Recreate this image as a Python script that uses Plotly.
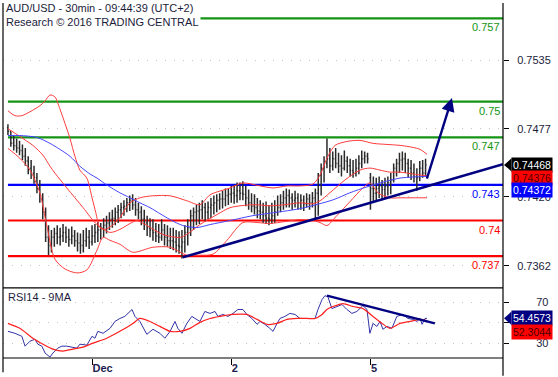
import pandas as pd
import plotly.graph_objects as go

# ---------------- data ----------------
title_line1 = "AUD/USD - 30min - 09:44:39 (UTC+2)"
title_line2 = "Research © 2016 TRADING CENTRAL"
rsi_title = "RSI14 - 9MA"

bar_times = list(pd.date_range("2016-11-30 09:30", "2016-12-02 23:30", freq="30min")) + \
    list(pd.date_range("2016-12-05 00:00", "2016-12-05 09:30", freq="30min"))

opens = [0.7478, 0.7475, 0.7465, 0.7463, 0.7461, 0.7459, 0.7454, 0.7450, 0.7444, 0.7440,
         0.7436, 0.7427, 0.7421, 0.7407, 0.7386, 0.7379, 0.7386, 0.7389, 0.7386, 0.7387,
         0.7390, 0.7386, 0.7384, 0.7387, 0.7383, 0.7381, 0.7379, 0.7383, 0.7386, 0.7382,
         0.7387, 0.7390, 0.7392, 0.7394, 0.7396, 0.7398, 0.7401, 0.7402, 0.7407, 0.7409,
         0.7411, 0.7412, 0.7415, 0.7417, 0.7413, 0.7409, 0.7407, 0.7401, 0.7398, 0.7394,
         0.7392, 0.7390, 0.7387, 0.7386, 0.7392, 0.7386, 0.7383, 0.7383, 0.7382, 0.7379,
         0.7378, 0.7382, 0.7390, 0.7394, 0.7404, 0.7407, 0.7408, 0.7409, 0.7411, 0.7407,
         0.7411, 0.7413, 0.7415, 0.7417, 0.7418, 0.7418, 0.7421, 0.7422, 0.7423, 0.7421,
         0.7425, 0.7423, 0.7422, 0.7419, 0.7415, 0.7412, 0.7411, 0.7408, 0.7407, 0.7404,
         0.7402, 0.7401, 0.7404, 0.7407, 0.7411, 0.7415, 0.7419, 0.7421, 0.7419, 0.7417,
         0.7419, 0.7415, 0.7417, 0.7414, 0.7418, 0.7415, 0.7419, 0.7423, 0.7438, 0.7444,
         0.7448, 0.7452, 0.7446, 0.7452, 0.7448, 0.7446, 0.7444, 0.7450, 0.7446, 0.7442,
         0.7440, 0.7444, 0.7448, 0.7452, 0.7454, 0.7436, 0.7427, 0.7423, 0.7427, 0.7429,
         0.7426, 0.7429, 0.7432, 0.7434, 0.7444, 0.7448, 0.7451, 0.7452, 0.7448, 0.7444,
         0.7440, 0.7437, 0.7436, 0.7444, 0.7440]
highs = [0.7481, 0.7475, 0.7471, 0.7469, 0.7467, 0.7464, 0.7461, 0.7454, 0.7451, 0.7446,
         0.7440, 0.7434, 0.7423, 0.7411, 0.7396, 0.7392, 0.7394, 0.7396, 0.7394, 0.7397,
         0.7395, 0.7393, 0.7395, 0.7392, 0.7390, 0.7389, 0.7392, 0.7394, 0.7392, 0.7396,
         0.7397, 0.7399, 0.7398, 0.7402, 0.7404, 0.7407, 0.7409, 0.7411, 0.7413, 0.7415,
         0.7417, 0.7419, 0.7421, 0.7422, 0.7419, 0.7415, 0.7412, 0.7409, 0.7404, 0.7402,
         0.7401, 0.7398, 0.7397, 0.7401, 0.7397, 0.7396, 0.7394, 0.7394, 0.7392, 0.7391,
         0.7392, 0.7396, 0.7401, 0.7409, 0.7411, 0.7413, 0.7415, 0.7417, 0.7415, 0.7416,
         0.7419, 0.7421, 0.7422, 0.7423, 0.7425, 0.7427, 0.7427, 0.7429, 0.7430, 0.7432,
         0.7432, 0.7433, 0.7429, 0.7426, 0.7423, 0.7422, 0.7419, 0.7417, 0.7415, 0.7416,
         0.7413, 0.7415, 0.7417, 0.7421, 0.7422, 0.7425, 0.7427, 0.7426, 0.7423, 0.7425,
         0.7423, 0.7422, 0.7421, 0.7423, 0.7422, 0.7424, 0.7427, 0.7440, 0.7448, 0.7454,
         0.7469, 0.7461, 0.7458, 0.7461, 0.7457, 0.7455, 0.7459, 0.7454, 0.7452, 0.7451,
         0.7452, 0.7455, 0.7459, 0.7458, 0.7457, 0.7440, 0.7437, 0.7436, 0.7437, 0.7434,
         0.7436, 0.7437, 0.7440, 0.7448, 0.7452, 0.7457, 0.7458, 0.7457, 0.7452, 0.7451,
         0.7448, 0.7444, 0.7450, 0.7451, 0.7452]
lows = [0.7472, 0.7462, 0.7459, 0.7457, 0.7455, 0.7451, 0.7446, 0.7439, 0.7435, 0.7431,
        0.7423, 0.7415, 0.7401, 0.7382, 0.7371, 0.7373, 0.7378, 0.7380, 0.7379, 0.7382,
        0.7381, 0.7378, 0.7380, 0.7378, 0.7374, 0.7372, 0.7373, 0.7378, 0.7376, 0.7379,
        0.7381, 0.7382, 0.7384, 0.7386, 0.7389, 0.7392, 0.7394, 0.7396, 0.7398, 0.7402,
        0.7404, 0.7407, 0.7408, 0.7409, 0.7404, 0.7401, 0.7396, 0.7392, 0.7387, 0.7386,
        0.7383, 0.7382, 0.7381, 0.7383, 0.7379, 0.7378, 0.7376, 0.7375, 0.7373, 0.7372,
        0.7368, 0.7373, 0.7379, 0.7387, 0.7392, 0.7396, 0.7397, 0.7401, 0.7399, 0.7401,
        0.7402, 0.7405, 0.7407, 0.7409, 0.7410, 0.7412, 0.7413, 0.7415, 0.7414, 0.7415,
        0.7417, 0.7417, 0.7412, 0.7409, 0.7407, 0.7405, 0.7402, 0.7401, 0.7398, 0.7397,
        0.7396, 0.7397, 0.7398, 0.7404, 0.7407, 0.7409, 0.7411, 0.7411, 0.7409, 0.7411,
        0.7409, 0.7409, 0.7408, 0.7411, 0.7409, 0.7411, 0.7401, 0.7404, 0.7421, 0.7432,
        0.7444, 0.7440, 0.7442, 0.7444, 0.7440, 0.7437, 0.7442, 0.7440, 0.7437, 0.7436,
        0.7437, 0.7439, 0.7444, 0.7448, 0.7448, 0.7409, 0.7415, 0.7417, 0.7419, 0.7417,
        0.7419, 0.7421, 0.7422, 0.7432, 0.7437, 0.7440, 0.7442, 0.7440, 0.7436, 0.7434,
        0.7432, 0.7425, 0.7433, 0.7436, 0.7437]
closes = [0.7475, 0.7465, 0.7463, 0.7461, 0.7459, 0.7454, 0.7450, 0.7444, 0.7440, 0.7436,
          0.7427, 0.7421, 0.7407, 0.7386, 0.7379, 0.7386, 0.7389, 0.7386, 0.7387, 0.7390,
          0.7386, 0.7384, 0.7387, 0.7383, 0.7381, 0.7379, 0.7383, 0.7386, 0.7382, 0.7387,
          0.7390, 0.7392, 0.7394, 0.7396, 0.7398, 0.7401, 0.7402, 0.7407, 0.7409, 0.7411,
          0.7412, 0.7415, 0.7417, 0.7413, 0.7409, 0.7407, 0.7401, 0.7398, 0.7394, 0.7392,
          0.7390, 0.7387, 0.7386, 0.7392, 0.7386, 0.7383, 0.7383, 0.7382, 0.7379, 0.7378,
          0.7382, 0.7390, 0.7394, 0.7404, 0.7407, 0.7408, 0.7409, 0.7411, 0.7407, 0.7411,
          0.7413, 0.7415, 0.7417, 0.7418, 0.7418, 0.7421, 0.7422, 0.7423, 0.7421, 0.7425,
          0.7423, 0.7422, 0.7419, 0.7415, 0.7412, 0.7411, 0.7408, 0.7407, 0.7404, 0.7402,
          0.7401, 0.7404, 0.7407, 0.7411, 0.7415, 0.7419, 0.7421, 0.7419, 0.7417, 0.7419,
          0.7415, 0.7417, 0.7414, 0.7418, 0.7415, 0.7419, 0.7423, 0.7438, 0.7444, 0.7448,
          0.7452, 0.7446, 0.7452, 0.7448, 0.7446, 0.7444, 0.7450, 0.7446, 0.7442, 0.7440,
          0.7444, 0.7448, 0.7452, 0.7454, 0.7452, 0.7427, 0.7423, 0.7427, 0.7429, 0.7426,
          0.7429, 0.7432, 0.7434, 0.7444, 0.7448, 0.7451, 0.7452, 0.7448, 0.7444, 0.7440,
          0.7437, 0.7436, 0.7444, 0.7440, 0.7447]

# Bollinger bands (read at sample bar positions)
bb_upper_x = [0, 2.4, 4.8, 7.6, 11, 12.8, 14.5, 16.2, 17.9, 19.7, 21.4, 23.1, 24.8, 27.2, 29,
              30.3, 31.7, 33.4, 35.9, 38.6, 42.1, 45.5, 50, 55.9, 61.7, 66.2, 69.7, 76.6, 81,
              86.9, 91.4, 96.2, 100.7, 105.2, 107.6, 110, 112.8, 116.9, 121.4, 125.9, 130.7,
              135.2, 139.7, 142.1, 144.5]
bb_upper = [0.74923, 0.74882, 0.74882, 0.74915, 0.74965, 0.75006, 0.75056, 0.75040, 0.74940,
            0.74815, 0.74690, 0.74540, 0.74424, 0.74357, 0.74191, 0.74066, 0.73941, 0.73925,
            0.73958, 0.74025, 0.74149, 0.74191, 0.74208, 0.74208, 0.74166, 0.74133, 0.74216,
            0.74274, 0.74316, 0.74291, 0.74274, 0.74291, 0.74291, 0.74307, 0.74382, 0.74524,
            0.74632, 0.74665, 0.74674, 0.74649, 0.74640, 0.74632, 0.74615, 0.74599, 0.74557]
bb_mid_x = [0, 4.1, 8.6, 12.1, 14.5, 16.2, 20.3, 25.9, 30.7, 35.2, 38.6, 42.1, 44.5, 47.9, 53.4,
            59.3, 61.7, 66.2, 72.1, 76.6, 84.5, 90.3, 95.5, 100.7, 105.2, 107.6, 111, 116.2,
            121.4, 124.8, 128.3, 131.7, 135.2, 139.7, 144.5]
bb_mid = [0.74773, 0.74707, 0.74632, 0.74549, 0.74457, 0.74399, 0.74274, 0.74108, 0.73966,
          0.73900, 0.73925, 0.73975, 0.74000, 0.73958, 0.73883, 0.73858, 0.73883, 0.73966,
          0.74050, 0.74108, 0.74133, 0.74124, 0.74133, 0.74149, 0.74141, 0.74166, 0.74233,
          0.74341, 0.74424, 0.74441, 0.74424, 0.74407, 0.74407, 0.74391, 0.74376]
bb_lower_x = [0, 4.1, 7.6, 11, 13.4, 16.2, 19.7, 23.8, 27.2, 30.7, 32.8, 35.2, 38.6, 43.1, 50,
              55.9, 61.7, 66.2, 70.7, 75.5, 81, 85.9, 90.3, 95.5, 100.7, 105.2, 107.6, 110,
              113.4, 117.9, 122.4, 124.8, 127.6, 131.7, 135.2, 139.7, 144.5]
bb_lower = [0.74607, 0.74524, 0.74424, 0.74233, 0.73958, 0.73675, 0.73592, 0.73559, 0.73584,
            0.73750, 0.73858, 0.73833, 0.73800, 0.73733, 0.73775, 0.73775, 0.73708, 0.73708,
            0.73717, 0.73833, 0.73983, 0.73983, 0.73975, 0.73991, 0.74008, 0.74000, 0.73983,
            0.73958, 0.74041, 0.74158, 0.74274, 0.74316, 0.74233, 0.74191, 0.74191, 0.74191,
            0.74191]
ma_x = [0, 4.1, 10, 14.5, 17.9, 21.4, 24.8, 28.3, 30.7, 34.1, 38.6, 42.1, 45.5, 49, 52.4, 55.9,
        60.3, 65.2, 69.7, 76.6, 84.5, 89.3, 100.7, 112.1, 117.9, 123.8, 130.7, 135.2, 139.7, 144.5]
ma = [0.74715, 0.74715, 0.74699, 0.74649, 0.74599, 0.74540, 0.74457, 0.74391, 0.74357, 0.74299,
      0.74233, 0.74191, 0.74149, 0.74108, 0.74058, 0.74008, 0.73958, 0.73941, 0.73966, 0.74000,
      0.74041, 0.74058, 0.74100, 0.74174, 0.74233, 0.74283, 0.74332, 0.74357, 0.74366, 0.74372]

# horizontal levels
levels = [0.757, 0.75, 0.747, 0.743, 0.74, 0.737]
level_text = ["0.757", "0.75", "0.747", "0.743", "0.74", "0.737"]
level_colors = ["#149414", "#149414", "#149414", "#0000ff", "#ff0000", "#ff0000"]

# support trend line and projection
trend_x = [60.3, 170.7]
trend_y = [0.7369, 0.74474]
proj_from = (144.3, 0.7434)
proj_to = (153.1, 0.7503)

# last values
last_price = 0.74468
last_bb_mid = 0.74376
last_ma = 0.74372

# RSI
rsi_x = [0, 2.4, 4.8, 5.9, 7.6, 9.3, 10.3, 11.7, 12.8, 14.5, 15.5, 17.2, 18.6, 20.3, 22.1, 23.8,
         24.8, 27.2, 29.0, 30.0, 31.0, 32.8, 35.2, 36.9, 38.6, 40.3, 42.8, 43.8, 45.5, 47.9,
         50.0, 52.4, 54.1, 55.9, 57.6, 58.6, 60.0, 61.7, 63.4, 64.5, 66.2, 67.9, 69.7, 71.4,
         72.4, 74.1, 75.9, 77.6, 79.3, 81.0, 82.4, 84.1, 85.9, 86.9, 88.6, 90.3, 91.4, 92.8,
         93.8, 95.5, 97.2, 99.0, 100.7, 102.4, 104.1, 105.9, 106.9, 108.3, 109.3, 110.3, 111.7,
         113.4, 115.2, 116.9, 118.6, 120.3, 122.4, 123.8, 124.8, 125.9, 127.2, 128.3, 129.3,
         130.7, 132.4, 134.1, 136.2, 137.9, 139.7, 141.0, 142.1, 142.8, 143.8, 144.5]
rsi = [41.8, 39.9, 37.0, 27.4, 32.2, 34.1, 29.3, 27.4, 20.7, 16.8, 20.7, 25.5, 27.4, 27.4, 26.4,
       25.5, 29.3, 28.4, 37.0, 35.1, 41.8, 39.9, 44.7, 51.4, 54.3, 56.3, 63.0, 56.3, 51.4, 38.9,
       43.8, 39.9, 35.1, 41.8, 51.4, 44.7, 39.9, 49.5, 56.3, 54.3, 51.4, 61.1, 59.2, 61.1, 56.3,
       58.2, 56.3, 59.2, 63.0, 63.0, 58.2, 54.3, 48.6, 51.4, 48.6, 44.7, 41.8, 49.5, 54.3, 56.3,
       59.2, 58.2, 54.3, 54.3, 54.3, 54.3, 63.0, 72.6, 76.4, 75.5, 63.9, 65.9, 67.8, 63.0, 59.2,
       61.1, 66.8, 63.0, 39.9, 49.5, 46.6, 51.4, 43.8, 46.6, 44.7, 56.3, 58.2, 54.3, 53.4, 51.4,
       54.3, 48.6, 54.3, 54.4573]
rsi_ma_x = [0, 4.1, 8.6, 12.1, 15.5, 19.0, 22.4, 25.9, 29.3, 34.1, 38.6, 43.1, 45.5, 49.0, 52.4,
            55.9, 59.3, 62.8, 66.2, 69.7, 73.1, 77.6, 82.4, 85.9, 89.3, 92.8, 96.2, 99.7, 103.1,
            105.9, 108.3, 110.0, 112.1, 115.5, 119.0, 122.4, 125.9, 129.0, 131.7, 135.2, 138.6,
            142.1, 144.5]
rsi_ma = [49.5, 44.7, 35.1, 29.3, 24.5, 22.6, 24.5, 26.4, 30.3, 35.1, 41.8, 49.5, 54.3, 51.4,
          46.6, 41.8, 41.8, 44.7, 50.5, 54.3, 56.3, 58.2, 58.2, 53.4, 48.6, 49.5, 53.4, 54.3,
          54.3, 54.3, 58.2, 63.0, 65.9, 68.8, 65.9, 63.9, 56.3, 49.5, 44.7, 49.5, 51.4, 53.4,
          52.3044]
rsi_trend_x = [110.0, 147.2]
rsi_trend_y = [76.4, 49.5]

price_ticks = [0.7362, 0.7420, 0.7477, 0.7535]
rsi_ticks = [30, 50, 70]
rsi_tick_text = ["30", "", "70"]

# ---------------- figure ----------------
idx = list(range(len(closes)))
day_ticks = [i for i, t in enumerate(bar_times) if t.hour == 0 and t.minute == 0]
day_text = ["Dec" if bar_times[i].day == 1 else str(bar_times[i].day) for i in day_ticks]

NAVY = "#000080"
BAND = "#ff3b3b"
FONT = "Liberation Sans, Arial, sans-serif"
x_range = [-1.7, 170.7]
split = 0.1978

fig = go.Figure()

for nm, xs, ys in [("upper", bb_upper_x, bb_upper), ("mid", bb_mid_x, bb_mid),
                   ("lower", bb_lower_x, bb_lower)]:
    fig.add_trace(go.Scatter(x=xs, y=ys, mode="lines", name=nm,
                             line=dict(color=BAND, width=1, shape="spline", smoothing=0.8),
                             xaxis="x", yaxis="y", hoverinfo="skip"))
fig.add_trace(go.Scatter(x=ma_x, y=ma, mode="lines", name="ma",
                         line=dict(color="#4646ff", width=1, shape="spline", smoothing=0.8),
                         xaxis="x", yaxis="y", hoverinfo="skip"))

fig.add_trace(go.Ohlc(x=idx, open=opens, high=highs, low=lows, close=closes,
                      increasing=dict(line=dict(color="#2a2a2a", width=1.5)),
                      decreasing=dict(line=dict(color="#2a2a2a", width=1.5)),
                      tickwidth=0.35, xaxis="x", yaxis="y", hoverinfo="skip"))

fig.add_trace(go.Scatter(x=trend_x, y=trend_y, mode="lines",
                         line=dict(color=NAVY, width=2.6), xaxis="x", yaxis="y",
                         hoverinfo="skip"))

fig.add_trace(go.Scatter(x=rsi_x, y=rsi, mode="lines", line=dict(color="#3232a6", width=1),
                         xaxis="x", yaxis="y2", hoverinfo="skip"))
fig.add_trace(go.Scatter(x=rsi_ma_x, y=rsi_ma, mode="lines",
                         line=dict(color="#ff2020", width=1.2, shape="spline", smoothing=0.6),
                         xaxis="x", yaxis="y2", hoverinfo="skip"))
fig.add_trace(go.Scatter(x=rsi_trend_x, y=rsi_trend_y, mode="lines",
                         line=dict(color=NAVY, width=2.4), xaxis="x", yaxis="y2",
                         hoverinfo="skip"))

shapes = []
annotations = []
for lv, tx, col in zip(levels, level_text, level_colors):
    shapes.append(dict(type="line", xref="x", yref="y", x0=idx[0], x1=x_range[1], y0=lv, y1=lv,
                       line=dict(color=col, width=2.2), layer="below"))
    annotations.append(dict(xref="paper", yref="y", x=1, y=lv, xanchor="right", yanchor="top",
                            xshift=-1, yshift=-1, text=tx, showarrow=False,
                            font=dict(family=FONT, size=11, color=col)))

# frame lines
shapes += [
    dict(type="line", xref="paper", yref="paper", x0=0, x1=0, y0=-0.04, y1=1,
         line=dict(color="black", width=1.2)),
    dict(type="line", xref="paper", yref="paper", x0=1, x1=1, y0=-0.05, y1=1,
         line=dict(color="black", width=1.2)),
    dict(type="line", xref="paper", yref="paper", x0=0, x1=1, y0=split, y1=split,
         line=dict(color="black", width=1.2)),
    dict(type="line", xref="paper", yref="paper", x0=0, x1=1, y0=0, y1=0,
         line=dict(color="black", width=1.2)),
]

# value boxes
def box(yref, y, text, bg, fg, yshift=0):
    annotations.append(dict(xref="paper", yref=yref, x=1, y=y, xanchor="left", yanchor="middle",
                            xshift=8, yshift=yshift, text=text, showarrow=False, bgcolor=bg,
                            borderpad=1, font=dict(family=FONT, size=10.5, color=fg)))

box("y", last_price, f"{last_price:.5f}", "black", "white")
box("y", last_bb_mid, f"{last_bb_mid:.5f}", "#ff0000", "#4a0000", yshift=-2)
box("y", last_ma, f"{last_ma:.5f}", "#0000ff", "white", yshift=-14)
box("y2", rsi[-1], f"{rsi[-1]:.4f}", NAVY, "white")
box("y2", rsi_ma[-1], f"{rsi_ma[-1]:.4f}", "#ff0000", "#4a0000", yshift=-11)
# pointers of the boxes
shapes.append(dict(type="path", xref="paper", yref="y",
                   path=f"M 1.002,{last_price} L 1.017,{last_price + 0.00055} L 1.017,{last_price - 0.00055} Z",
                   fillcolor="black", line=dict(width=0)))
shapes.append(dict(type="path", xref="paper", yref="y2",
                   path=f"M 1.002,{rsi[-1]} L 1.017,{rsi[-1] + 6.5} L 1.017,{rsi[-1] - 6.5} Z",
                   fillcolor=NAVY, line=dict(width=0)))

annotations.append(dict(x=proj_to[0], y=proj_to[1], ax=proj_from[0], ay=proj_from[1],
                        xref="x", yref="y", axref="x", ayref="y", showarrow=True,
                        arrowhead=2, arrowsize=1.1, arrowwidth=2.4, arrowcolor=NAVY, text=""))

annotations.append(dict(xref="paper", yref="paper", x=0, y=1, xanchor="left", yanchor="top",
                        xshift=1, yshift=3, align="left", showarrow=False, bgcolor="white",
                        text=title_line1 + "<br>" + title_line2,
                        font=dict(family=FONT, size=11, color="#1c1c3c")))
annotations.append(dict(xref="paper", yref="paper", x=0, y=split, xanchor="left", yanchor="top",
                        xshift=3, yshift=-1, showarrow=False, text=rsi_title,
                        font=dict(family=FONT, size=11, color="#1c1c3c")))

fig.update_layout(
    width=558, height=377,
    margin=dict(l=3, r=55, t=3, b=15),
    paper_bgcolor="white", plot_bgcolor="white",
    showlegend=False,
    font=dict(family=FONT, size=11, color="#1c1c3c"),
    xaxis=dict(range=x_range, anchor="y2", tickvals=day_ticks, ticktext=day_text,
               ticks="outside", ticklen=6, tickcolor="black", showgrid=False, zeroline=False,
               ticklabelposition="outside right", showline=False,
               tickfont=dict(family=FONT, size=11, color="#1c1c50", weight="bold"),
               rangeslider=dict(visible=False), fixedrange=True),
    yaxis=dict(domain=[split, 1], range=[0.73434, 0.75830], side="right", anchor="x",
               tickvals=price_ticks, ticktext=[f"{v:.4f}" for v in price_ticks],
               ticks="outside", ticklen=5, tickcolor="black", showline=False,
               showgrid=True, gridcolor="#c4c4c4", griddash="1px,8px", gridwidth=1,
               zeroline=False, ticklabelstandoff=6,
               tickfont=dict(family=FONT, size=11, color="#1c1c3c")),
    yaxis2=dict(domain=[0, split], range=[15.9, 84.1], side="right", anchor="x",
                tickvals=rsi_ticks, ticktext=rsi_tick_text,
                ticks="outside", ticklen=5, tickcolor="black", showline=False,
                showgrid=True, gridcolor="#c4c4c4", griddash="1px,8px", gridwidth=1,
                zeroline=False, ticklabelstandoff=25,
                tickfont=dict(family=FONT, size=11, color="#1c1c3c")),
    shapes=shapes,
    annotations=annotations,
)

fig.write_html("out.html", config={"displayModeBar": False, "staticPlot": True},
               post_script="document.body.style.margin='0';")
